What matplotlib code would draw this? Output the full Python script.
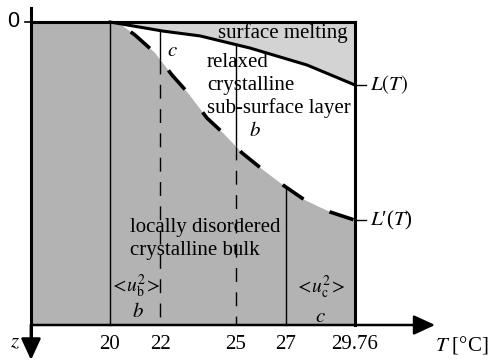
import numpy as np
import matplotlib
matplotlib.use("Agg")
import matplotlib.pyplot as plt

plt.rcParams['font.family'] = ['Liberation Serif', 'DejaVu Serif']
plt.rcParams['mathtext.fontset'] = 'stix'

# temperature ticks and region boundaries
t_ticks = [20, 22, 25, 27, 29.76]
t_start, t_end = 20, 29.76
t_left = 16.853          # where the z axis sits
t_arrow = 32.95          # tip of the T arrow

# L(T): surface melting front
T_L = [20.0, 22.11, 23.59, 25.58, 27.85, 29.76]
z_L = [0.0, 0.030, 0.046, 0.086, 0.142, 0.208]

# L'(T): relaxed sub-surface layer front
T_Lp = [20.0, 20.40, 20.996, 21.793, 22.470, 23.107, 23.864, 24.502,
        25.259, 26.095, 26.892, 27.768, 28.764, 29.76]
z_Lp = [0.0, 0.007, 0.043, 0.102, 0.175, 0.234, 0.317, 0.366,
        0.432, 0.488, 0.538, 0.588, 0.627, 0.654]

dark = '#b3b3b3'
light = '#d3d3d3'

fig = plt.figure(figsize=(4.91, 3.62), dpi=100)
ax = fig.add_axes([0, 0, 1, 1])
ax.set_xlim(15.618, 35.178)
ax.set_ylim(1.1221, -0.0726)
ax.axis('off')

# filled regions
ax.fill_between(T_L, 0, z_L, color=light, lw=0)
poly_T = [t_left] + T_Lp + [t_end, t_left]
poly_z = [0] + z_Lp + [1, 1]
ax.fill(poly_T, poly_z, color=dark, lw=0)

# vertical guide lines
ax.plot([20, 20], [0, 1], color='k', lw=1.0)
for t in [22, 25]:
    top = np.interp(t, T_L, z_L)
    mid = np.interp(t, T_Lp, z_Lp)
    ax.plot([t, t], [top, mid], color='k', lw=1.0, solid_capstyle='butt')
    ax.plot([t, t], [mid, 1], color='k', lw=1.0, ls=(0, (10, 7.5)))
ax.plot([27, 27], [np.interp(27, T_Lp, z_Lp), 1], color='k', lw=1.0)

# fronts
ax.plot(T_L, z_L, color='k', lw=2.2)
ax.plot(T_Lp, z_Lp, color='k', lw=2.6, ls=(8.5, (7.0, 8.0)))

# frame lines
ax.plot([t_left, t_end], [0, 0], color='k', lw=2.2)
ax.plot([t_end, t_end], [0, 1], color='k', lw=2.2)
ax.plot([t_end, 30.2], [z_L[-1], z_L[-1]], color='k', lw=1.0)
ax.plot([t_end, 30.2], [z_Lp[-1], z_Lp[-1]], color='k', lw=1.0)
ax.plot([16.614, t_left], [0, 0], color='k', lw=1.2)

# axes with arrows
ax.plot([t_left, t_left], [-0.046, 1.06], color='k', lw=2.2)
ax.annotate('', xy=(t_left, 1.1155), xytext=(t_left, 1.0),
            arrowprops=dict(arrowstyle='-|>,head_length=13,head_width=6',
                            mutation_scale=1, lw=2.0, color='k',
                            shrinkA=0, shrinkB=0))
ax.annotate('', xy=(t_arrow, 1), xytext=(t_left, 1),
            arrowprops=dict(arrowstyle='-|>,head_length=13,head_width=6',
                            mutation_scale=1, lw=1.8, color='k',
                            shrinkA=0, shrinkB=0))

fs = 15
for t in t_ticks:
    ax.text(t, 1.063, f'{t:g}', ha='center', va='center', fontsize=fs)
ax.text(32.95, 1.066, r'$T$ [°C]', ha='left', va='center', fontsize=fs)
ax.text(16.20, 1.059, r'$z$', ha='center', va='center', fontsize=fs)
ax.text(16.14, 0, '0', ha='center', va='center', fontsize=15.5,
        family='Liberation Sans')

ax.text(24.30, 0.0528, 'surface melting', ha='left', va='baseline', fontsize=fs)
ax.text(23.86, 0.1485, 'relaxed', ha='left', va='baseline', fontsize=fs)
ax.text(23.86, 0.2244, 'crystalline', ha='left', va='baseline', fontsize=fs)
ax.text(23.86, 0.3003, 'sub-surface layer', ha='left', va='baseline', fontsize=fs)
ax.text(22.47, 0.099, r'$c$', ha='center', va='center', fontsize=fs)
ax.text(25.78, 0.363, r'$b$', ha='center', va='center', fontsize=fs)
ax.text(20.80, 0.693, 'locally disordered', ha='left', va='baseline', fontsize=fs)
ax.text(20.80, 0.769, 'crystalline bulk', ha='left', va='baseline', fontsize=fs)
ax.text(21.0, 0.872, r'$<\!u_{\rm b}^{2}\!>$', ha='center', va='center', fontsize=14)
ax.text(21.12, 0.958, r'$b$', ha='center', va='center', fontsize=fs)
ax.text(28.37, 0.875, r'$<\!u_{\rm c}^{2}\!>$', ha='center', va='center', fontsize=14)
ax.text(28.37, 0.974, r'$c$', ha='center', va='center', fontsize=fs)
ax.text(30.36, z_L[-1], r'$L(T)$', ha='left', va='center', fontsize=fs)
ax.text(30.36, z_Lp[-1], '$L$\u2032($T$)', ha='left', va='center', fontsize=fs)

fig.savefig('out.png', dpi=100)
